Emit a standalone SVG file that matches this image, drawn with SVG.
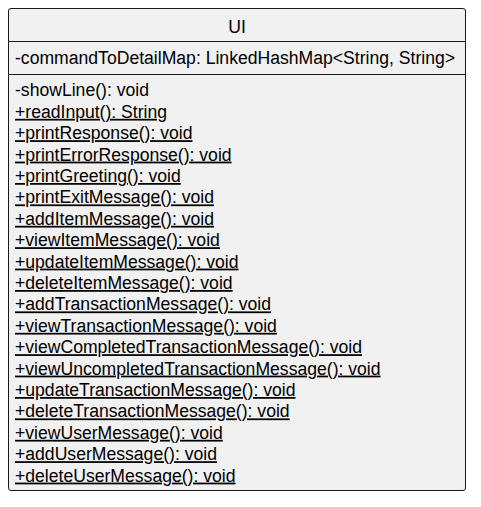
<svg xmlns="http://www.w3.org/2000/svg" width="481" height="507" viewBox="0 0 481 507">
<style>
text{font-family:"Liberation Sans",Arial,sans-serif;font-size:17.6px;fill:#000}
.s{text-decoration:underline}
.sep{stroke:#181818;stroke-width:1}
</style>
<rect width="481" height="507" fill="#fff"/>
<g id="UI">
<rect x="8.5" y="8.5" width="457" height="482" rx="2.5" ry="2.5" fill="#F1F1F1" stroke="#181818" stroke-width="1"/>
<text x="237" y="33" text-anchor="middle">UI</text>
<line class="sep" x1="8.5" y1="41.5" x2="465.5" y2="41.5"/>
<text x="15" y="64">-commandToDetailMap: LinkedHashMap&lt;String, String&gt;</text>
<line class="sep" x1="8.5" y1="74.5" x2="465.5" y2="74.5"/>
<text x="15" y="96.4">-showLine(): void</text>
<text class="s" x="15" y="117.8">+readInput(): String</text>
<text class="s" x="15" y="139.2">+printResponse(): void</text>
<text class="s" x="15" y="160.6">+printErrorResponse(): void</text>
<text class="s" x="15" y="182">+printGreeting(): void</text>
<text class="s" x="15" y="203.4">+printExitMessage(): void</text>
<text class="s" x="15" y="224.8">+addItemMessage(): void</text>
<text class="s" x="15" y="246.2">+viewItemMessage(): void</text>
<text class="s" x="15" y="267.6">+updateItemMessage(): void</text>
<text class="s" x="15" y="289">+deleteItemMessage(): void</text>
<text class="s" x="15" y="310.4">+addTransactionMessage(): void</text>
<text class="s" x="15" y="331.8">+viewTransactionMessage(): void</text>
<text class="s" x="15" y="353.2">+viewCompletedTransactionMessage(): void</text>
<text class="s" x="15" y="374.6">+viewUncompletedTransactionMessage(): void</text>
<text class="s" x="15" y="396">+updateTransactionMessage(): void</text>
<text class="s" x="15" y="417.4">+deleteTransactionMessage(): void</text>
<text class="s" x="15" y="438.8">+viewUserMessage(): void</text>
<text class="s" x="15" y="460.2">+addUserMessage(): void</text>
<text class="s" x="15" y="481.6">+deleteUserMessage(): void</text>
</g>
<g id="connectors"/>
</svg>
